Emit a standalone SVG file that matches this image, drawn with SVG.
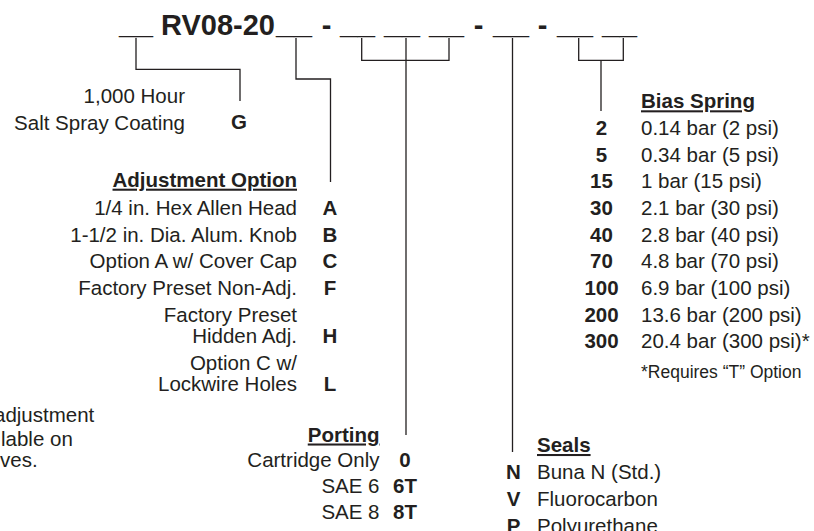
<svg xmlns="http://www.w3.org/2000/svg" width="814" height="531" viewBox="0 0 814 531">
<style>
text{font-family:"Liberation Sans",Arial,Helvetica,sans-serif;fill:#231f20;font-size:20.5px}
.b{font-weight:bold}
.t{font-weight:bold;font-size:29px}
.h{font-weight:bold;text-decoration:underline}
.e{text-anchor:end}
.m{text-anchor:middle}
.fn{font-size:17.5px}
.c{fill:none;stroke:#231f20;stroke-width:1.3}
</style>
<rect width="814" height="531" fill="#fff"/>
<g id="title">
<text class="t" x="119" y="33.5" textLength="34" lengthAdjust="spacingAndGlyphs">__</text>
<text class="t" x="161" y="35">RV08-20</text>
<text class="t" x="276" y="33.5" textLength="36" lengthAdjust="spacingAndGlyphs">__</text>
<text class="t m" x="326.5" y="35">-</text>
<text class="t" x="340" y="33.5" textLength="35" lengthAdjust="spacingAndGlyphs">__</text>
<text class="t" x="384" y="33.5" textLength="36" lengthAdjust="spacingAndGlyphs">__</text>
<text class="t" x="429" y="33.5" textLength="35" lengthAdjust="spacingAndGlyphs">__</text>
<text class="t m" x="478.5" y="35">-</text>
<text class="t" x="493" y="33.5" textLength="36" lengthAdjust="spacingAndGlyphs">__</text>
<text class="t m" x="542.5" y="35">-</text>
<text class="t" x="557" y="33.5" textLength="36" lengthAdjust="spacingAndGlyphs">__</text>
<text class="t" x="602" y="33.5" textLength="35" lengthAdjust="spacingAndGlyphs">__</text>
</g>
<g id="connectors">
<polyline class="c" points="136,38 136,69.3 240,69.3 240,101"/>
<polyline class="c" points="296,38 296,79 330.5,79 330.5,182"/>
<polyline class="c" points="361.7,38 361.7,60.3 449,60.3 449,38"/>
<line class="c" x1="406" y1="38" x2="406" y2="435"/>
<line class="c" x1="512.5" y1="38" x2="512.5" y2="452"/>
<polyline class="c" points="578.7,38 578.7,60.3 623.3,60.3 623.3,38"/>
<line class="c" x1="601" y1="60.3" x2="601" y2="111"/>
</g>
<g id="coating">
<text class="e" x="185" y="103">1,000 Hour</text>
<text class="e" x="185" y="129.5">Salt Spray Coating</text>
<text class="b m" x="239" y="129">G</text>
</g>
<g id="adjustment">
<text class="h e" x="297" y="186.7">Adjustment Option</text>
<text class="e" x="297" y="215">1/4 in. Hex Allen Head</text>
<text class="e" x="297" y="241.7">1-1/2 in. Dia. Alum. Knob</text>
<text class="e" x="297" y="268.3">Option A w/ Cover Cap</text>
<text class="e" x="297" y="295">Factory Preset Non-Adj.</text>
<text class="e" x="297" y="321.7">Factory Preset</text>
<text class="e" x="297" y="343.3">Hidden Adj.</text>
<text class="e" x="297" y="369.5">Option C w/</text>
<text class="e" x="297" y="391">Lockwire Holes</text>
<text class="b m" x="330" y="215">A</text>
<text class="b m" x="330" y="241.7">B</text>
<text class="b m" x="330" y="268.3">C</text>
<text class="b m" x="330" y="295">F</text>
<text class="b m" x="330" y="343.3">H</text>
<text class="b m" x="330" y="391">L</text>
</g>
<g id="note">
<text x="-6" y="421.5">adjustment</text>
<text x="1" y="445.5">lable on</text>
<text x="0" y="467">ves.</text>
</g>
<g id="porting">
<text class="h e" x="379.5" y="441.5">Porting</text>
<text class="e" x="379.5" y="467">Cartridge Only</text>
<text class="e" x="379.5" y="493">SAE 6</text>
<text class="e" x="379.5" y="519">SAE 8</text>
<text class="b m" x="405" y="467">0</text>
<text class="b m" x="405" y="493">6T</text>
<text class="b m" x="405" y="519">8T</text>
</g>
<g id="seals">
<text class="h" x="537" y="452">Seals</text>
<text class="b m" x="513.5" y="479">N</text>
<text x="537" y="479">Buna N (Std.)</text>
<text class="b m" x="513.5" y="506">V</text>
<text x="537" y="506">Fluorocarbon</text>
<text class="b m" x="513.5" y="533">P</text>
<text x="537" y="533">Polyurethane</text>
</g>
<g id="bias">
<text class="h" x="641" y="108.3">Bias Spring</text>
<text class="b m" x="601.5" y="135">2</text>
<text x="641" y="135">0.14 bar (2 psi)</text>
<text class="b m" x="601.5" y="161.7">5</text>
<text x="641" y="161.7">0.34 bar (5 psi)</text>
<text class="b m" x="601.5" y="188.3">15</text>
<text x="641" y="188.3">1 bar (15 psi)</text>
<text class="b m" x="601.5" y="215">30</text>
<text x="641" y="215">2.1 bar (30 psi)</text>
<text class="b m" x="601.5" y="241.7">40</text>
<text x="641" y="241.7">2.8 bar (40 psi)</text>
<text class="b m" x="601.5" y="268.3">70</text>
<text x="641" y="268.3">4.8 bar (70 psi)</text>
<text class="b m" x="601.5" y="295">100</text>
<text x="641" y="295">6.9 bar (100 psi)</text>
<text class="b m" x="601.5" y="321.7">200</text>
<text x="641" y="321.7">13.6 bar (200 psi)</text>
<text class="b m" x="601.5" y="348.3">300</text>
<text x="641" y="348.3">20.4 bar (300 psi)*</text>
<text class="fn" x="641" y="378">*Requires “T” Option</text>
</g>
</svg>
